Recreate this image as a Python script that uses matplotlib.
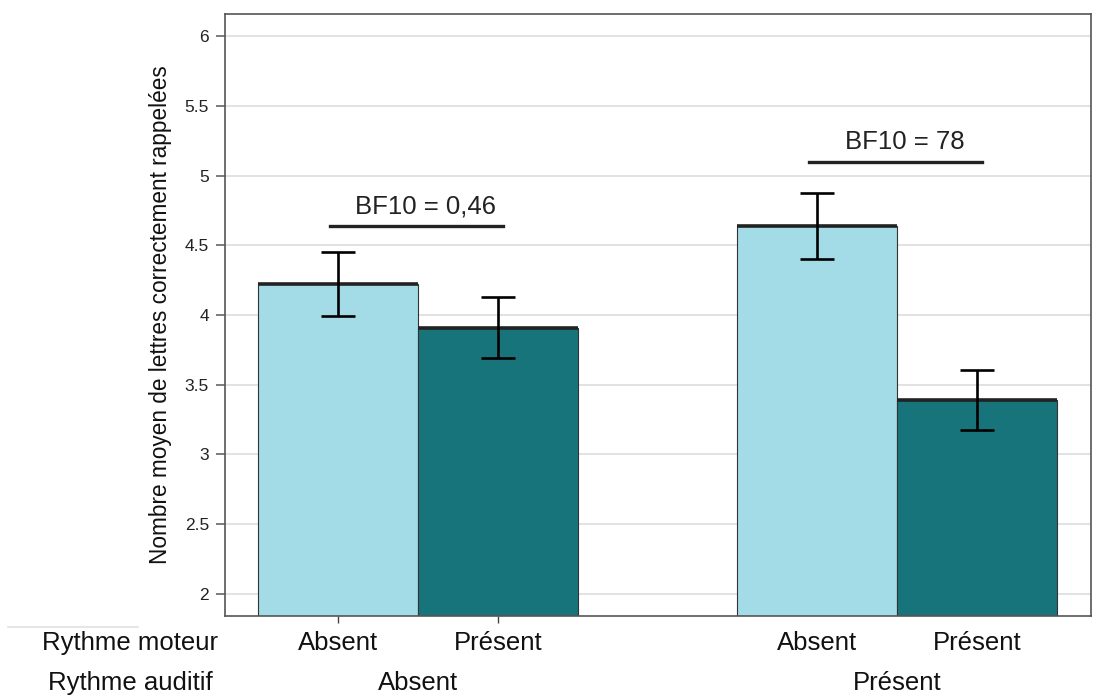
import matplotlib
matplotlib.use("Agg")
import matplotlib.pyplot as plt
from matplotlib.lines import Line2D

plt.rcParams["font.family"] = ["Liberation Sans", "DejaVu Sans"]

# data
moteur_labels = ["Absent", "Présent", "Absent", "Présent"]
auditif_labels = ["Absent", "Présent"]
means = [4.22, 3.91, 4.64, 3.39]
errors = [0.23, 0.22, 0.235, 0.215]
bf_labels = ["BF10 = 0,46", "BF10 = 78"]
bf_heights = [4.635, 5.095]

positions = [0, 1, 3, 4]
colors = ["#A3DBE6", "#17747A", "#A3DBE6", "#17747A"]

fig = plt.figure(figsize=(11.19, 6.98), dpi=100)
ax = fig.add_axes([0.2011, 0.1175, 0.7739, 0.8624])

ax.bar(positions, [m - 1.842 for m in means], bottom=1.842, width=1.0,
       color=colors, edgecolor="#333333", linewidth=0.8, zorder=2)
# thicker top edge on each bar
ax.hlines(means, [p - 0.5 for p in positions], [p + 0.5 for p in positions],
          color="#222222", linewidth=2.6, zorder=3)
ax.errorbar(positions, means, yerr=errors, fmt="none", ecolor="black",
            elinewidth=1.9, capsize=12, capthick=1.9, zorder=4)

# Bayes factor brackets
for g, (lab, h) in enumerate(zip(bf_labels, bf_heights)):
    x0, x1 = positions[2 * g], positions[2 * g + 1]
    ax.plot([x0 - 0.05, x1 + 0.03], [h, h], color="#222222", lw=2.4, zorder=4)
    ax.text((x0 + x1) / 2 + 0.05, h + 0.06, lab, ha="center", va="bottom",
            fontsize=18.5, color="#222222")

ax.set_xlim(-0.70625, 4.7125)
ax.set_ylim(1.842, 6.158)
ax.set_yticks([2, 2.5, 3, 3.5, 4, 4.5, 5, 5.5, 6])
ax.set_yticklabels(["2", "2.5", "3", "3.5", "4", "4.5", "5", "5.5", "6"])
ax.yaxis.grid(True, color="#DDDDDD", linewidth=1.2, zorder=0)
ax.set_axisbelow(True)
ax.tick_params(axis="y", labelsize=12.5, length=6.5, width=1.2, color="#666666",
               labelcolor="#222222", pad=5)
ax.set_xticks(positions[:2])
ax.set_xticklabels([])
ax.tick_params(axis="x", length=5, width=1.0, color="#444444")
for s in ax.spines.values():
    s.set_color("#555555")
    s.set_linewidth(1.2)

ax.set_ylabel("Nombre moyen de lettres correctement rappelées", fontsize=16.3,
              color="#111111", labelpad=9)

# x labels (two rows)
tr = ax.get_xaxis_transform()
for p, lab in zip(positions, moteur_labels):
    ax.text(p, -0.045, lab, transform=tr, ha="center", va="center",
            fontsize=18.5, color="#111111")
for g, lab in enumerate(auditif_labels):
    cx = (positions[2 * g] + positions[2 * g + 1]) / 2
    ax.text(cx, -0.111, lab, transform=tr, ha="center", va="center",
            fontsize=18.5, color="#111111")

fig.text(130 / 1119, 1 - 643 / 698, "Rythme moteur", ha="center", va="center",
         fontsize=18.5, color="#111111")
fig.text(130 / 1119, 1 - 683 / 698, "Rythme auditif", ha="center", va="center",
         fontsize=18.5, color="#111111")
fig.add_artist(Line2D([8 / 1119, 138 / 1119], [1 - 627 / 698, 1 - 627 / 698],
                      color="#E0E0E0", lw=1.2))

fig.savefig("out.png", dpi=100, facecolor="white")
